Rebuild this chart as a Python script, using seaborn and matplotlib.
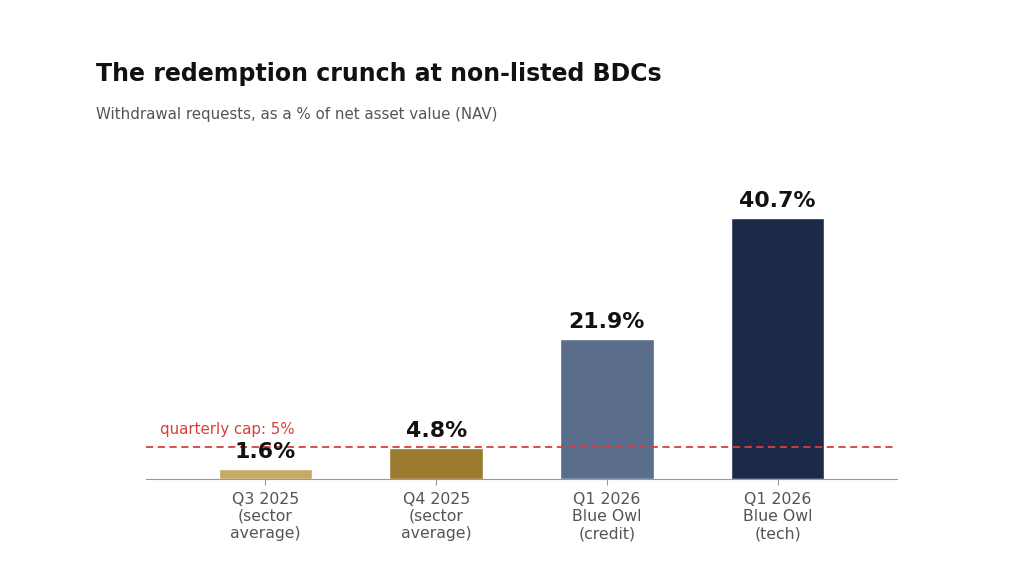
import matplotlib
matplotlib.use("Agg")
import matplotlib.pyplot as plt
import seaborn as sns
import pandas as pd

categories = ["Q3 2025\n(sector\naverage)", "Q4 2025\n(sector\naverage)",
              "Q1 2026\nBlue Owl\n(credit)", "Q1 2026\nBlue Owl\n(tech)"]
values = [1.6, 4.8, 21.9, 40.7]
colors = ["#c8a964", "#9b7b2f", "#5a6d8d", "#1c2a4a"]
cap = 5

sns.set_style("white")
plt.rcParams['font.family'] = ['DejaVu Sans']

df = pd.DataFrame({"period": categories, "pct": values})

fig = plt.figure(figsize=(10.24, 5.76), dpi=100)
ax = fig.add_axes([0.1426, 0.1684, 0.7334, 0.512])

sns.barplot(data=df, x="period", y="pct", hue="period", palette=colors,
            width=0.55, saturation=1, legend=False, ax=ax)

ax.set_xlim(-0.7, 3.7)
ax.set_ylim(0, 46)

ax.axhline(cap, color="#d9403a", linestyle="--", linewidth=1.3, dashes=(4, 2.5))
ax.text(-0.62, cap + 1.6, "quarterly cap: 5%", color="#d9403a", fontsize=10.8,
        ha="left", va="bottom")

for i, v in enumerate(values):
    ax.annotate(f"{v}%", (i, v), xytext=(0, 5), textcoords="offset points",
                ha="center", va="bottom", fontsize=15.8, fontweight="bold",
                color="#111111")

for s in ["top", "right", "left"]:
    ax.spines[s].set_visible(False)
ax.spines["bottom"].set_color("#999999")
ax.set_yticks([])
ax.set_xlabel("")
ax.set_ylabel("")
ax.tick_params(axis="x", colors="#999999", labelcolor="#555555",
               labelsize=11.3, length=4, pad=5, bottom=True)
for lbl in ax.get_xticklabels():
    lbl.set_linespacing(1.2)

fig.text(0.094, 0.872, "The redemption crunch at non-listed BDCs",
         fontsize=17, fontweight="bold", color="#111111", va="center")
fig.text(0.094, 0.802, "Withdrawal requests, as a % of net asset value (NAV)",
         fontsize=10.8, color="#555555", va="center")

fig.savefig("out.png", dpi=100)
